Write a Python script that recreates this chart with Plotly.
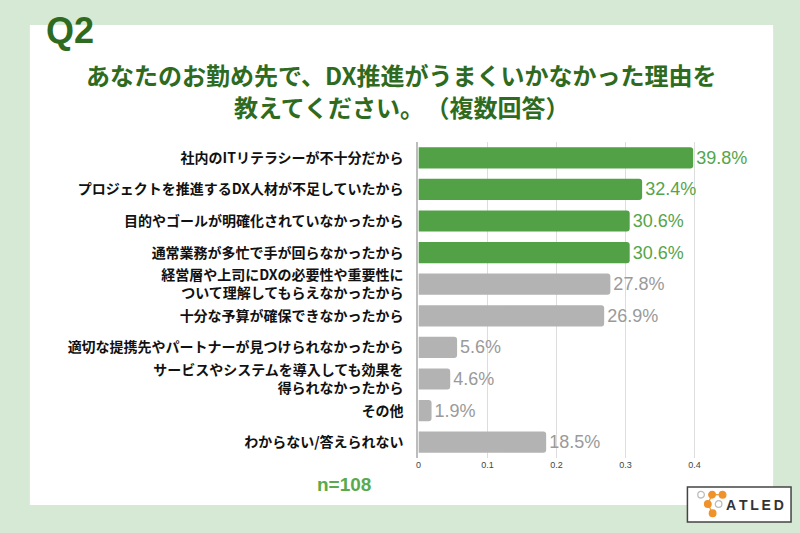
import plotly.graph_objects as go

# ----- データ -----
labels = [
    "社内のITリテラシーが不十分だから",
    "プロジェクトを推進するDX人材が不足していたから",
    "目的やゴールが明確化されていなかったから",
    "通常業務が多忙で手が回らなかったから",
    "経営層や上司にDXの必要性や重要性に<br>ついて理解してもらえなかったから",
    "十分な予算が確保できなかったから",
    "適切な提携先やパートナーが見つけられなかったから",
    "サービスやシステムを導入しても効果を<br>得られなかったから",
    "その他",
    "わからない/答えられない",
]
values = [0.398, 0.324, 0.306, 0.306, 0.278, 0.269, 0.056, 0.046, 0.019, 0.185]
highlight = [True, True, True, True, False, False, False, False, False, False]
x_ticks = [0, 0.1, 0.2, 0.3, 0.4]
x_tick_text = ["0", "0.1", "0.2", "0.3", "0.4"]

# ----- 色 -----
BG = "#d6e9d4"
GREEN_BAR = "#53a146"
GRAY_BAR = "#b3b3b3"
GREEN_TXT = "#55a549"
GRAY_TXT = "#9a9a9a"
TITLE_GREEN = "#2e6b20"
JP = "Noto Sans CJK JP"

W, H = 800, 533


def px(x):
    return x / W


def py(y):
    return 1 - y / H


bar_colors = [GREEN_BAR if h else GRAY_BAR for h in highlight]
txt_colors = [GREEN_TXT if h else GRAY_TXT for h in highlight]

fig = go.Figure(go.Bar(
    x=values, y=labels, orientation="h",
    marker=dict(color=bar_colors, line=dict(width=0)),
    text=[f"{v * 100:.1f}%" for v in values],
    textposition="outside",
    textfont=dict(color=txt_colors, size=18, family="Liberation Sans"),
    constraintext="none",
    cliponaxis=False,
    hoverinfo="skip",
))

fig.update_layout(
    width=W, height=H,
    margin=dict(l=0, r=0, t=0, b=0),
    paper_bgcolor=BG, plot_bgcolor="rgba(0,0,0,0)",
    showlegend=False,
    bargap=0.33,
    barcornerradius=3,
    xaxis=dict(
        domain=[px(417), px(763.5)], range=[0, 0.5],
        tickvals=x_ticks, ticktext=x_tick_text,
        showgrid=True, gridcolor="#dddddd", gridwidth=1,
        zeroline=False, showline=False,
        tickfont=dict(size=9, color="#444444", family="Liberation Sans"),
        fixedrange=True,
    ),
    yaxis=dict(
        domain=[py(458), py(142)], autorange="reversed",
        showline=True, linecolor="#bdbdbd", linewidth=2,
        showgrid=False, ticks="",
        ticklabelstandoff=10,
        tickfont=dict(size=14, color="#111111", family=JP, weight="bold"),
        fixedrange=True,
    ),
)

# 白いパネルとロゴ枠
shapes = [
    dict(type="rect", xref="paper", yref="paper", layer="below",
         x0=px(27), x1=px(773), y0=py(505), y1=py(25),
         fillcolor="white", line=dict(width=0)),
    dict(type="rect", xref="paper", yref="paper",
         x0=px(687), x1=px(791), y0=py(522), y1=py(487),
         fillcolor="white", line=dict(color="#444444", width=1.5)),
]

# ATLEDロゴ（点と線）
dots = [(700.7, 494.7, "#bdbdbd"), (711.7, 494.7, "#f0922b"), (722.3, 494.7, "#f0922b"),
        (707.5, 504, "#f0922b"), (718.3, 504, "#bdbdbd"), (712.3, 513.3, "#f0922b")]
links = [(711.7, 494.7, 722.3, 494.7), (711.7, 494.7, 707.5, 504), (707.5, 504, 712.3, 513.3)]
for x0, y0, x1, y1 in links:
    shapes.append(dict(type="line", xref="paper", yref="paper",
                       x0=px(x0), y0=py(y0), x1=px(x1), y1=py(y1),
                       line=dict(color="#f0922b", width=1.2)))
r = 3.3
for cx, cy, c in dots:
    filled = c != "#bdbdbd"
    shapes.append(dict(type="circle", xref="paper", yref="paper",
                       x0=px(cx - r), x1=px(cx + r), y0=py(cy + r), y1=py(cy - r),
                       fillcolor=c if filled else "white",
                       line=dict(color=c, width=1.3)))
fig.update_layout(shapes=shapes)

annotations = [
    dict(text="Q2", x=px(41), y=py(30), xanchor="left", yanchor="middle",
         font=dict(size=36, color=TITLE_GREEN, family="Liberation Sans", weight="bold")),
    dict(text="あなたのお勤め先で、DX推進がうまくいかなかった理由を", x=0.5, y=py(74),
         xanchor="center", yanchor="middle",
         font=dict(size=24, color=TITLE_GREEN, family=JP, weight="bold")),
    dict(text="教えてください。\u200a（複数回答）", x=0.5, y=py(106),
         xanchor="center", yanchor="middle",
         font=dict(size=24, color=TITLE_GREEN, family=JP, weight="bold")),
    dict(text="n=108", x=px(342), y=py(484), xanchor="center", yanchor="middle",
         font=dict(size=19, color="#5aaa4b", family="Liberation Sans", weight="bold")),
    dict(text="A\u2009T\u2009L\u2009E\u2009D", x=px(755), y=py(505), xanchor="center", yanchor="middle",
         font=dict(size=14, color="#333333", family="Liberation Sans", weight="bold")),
]
for a in annotations:
    a.update(xref="paper", yref="paper", showarrow=False)
fig.update_layout(annotations=annotations)

# ページ余白をなくして図をウィンドウ全体に合わせる
fig.write_html("out.html", config={"displayModeBar": False},
               post_script="document.body.style.margin='0';")
